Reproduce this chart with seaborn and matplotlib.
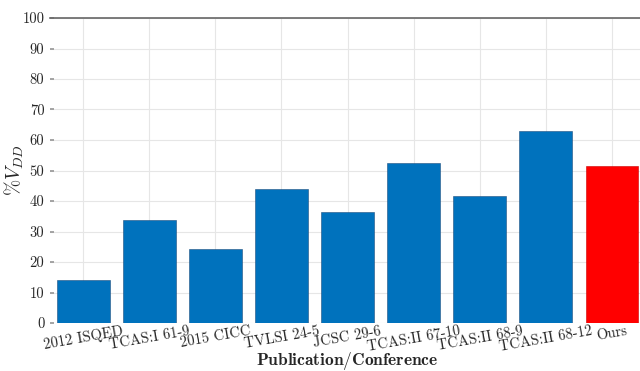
import matplotlib
matplotlib.use("Agg")
import matplotlib.pyplot as plt
import seaborn as sns
import pandas as pd

categories = ["2012 ISQED", "TCAS:I 61-9", "2015 CICC", "TVLSI 24-5", "JCSC 29-6",
              "TCAS:II 67-10", "TCAS:II 68-9", "TCAS:II 68-12", "Ours"]
values = [14.2, 33.8, 24.3, 44.0, 36.4, 52.5, 41.7, 63.0, 51.4]
bar_colors = ["#0072BD"] * 8 + ["#FF0000"]
yticks = list(range(0, 101, 10))

sns.set_theme(style="white")
plt.rcParams["font.family"] = ["cmr10", "DejaVu Serif"]
plt.rcParams["mathtext.fontset"] = "cm"
plt.rcParams["axes.unicode_minus"] = False

df = pd.DataFrame({"cat": categories, "val": values})

fig = plt.figure(figsize=(6.4, 3.71), dpi=100)
ax = fig.add_axes([50/640, 1 - 323/371, 595/640, (323 - 18)/371])

sns.barplot(data=df, x="cat", y="val", hue="cat", palette=bar_colors, legend=False,
            width=0.8, saturation=1, ax=ax, edgecolor="#1f4f7f", linewidth=0.4, zorder=3)
ax.patches[-1].set_edgecolor("#cc0000")

ax.set_xlim(-0.5, 8.5)
ax.set_ylim(0, 100)
ax.set_yticks(yticks)
ax.set_yticklabels([str(t) for t in yticks], fontsize=10.5)
ax.set_xticks(range(len(categories)))
ax.set_xticklabels(categories, rotation=10, ha="center", fontsize=10.5)

ax.grid(True, color="#e6e6e6", linewidth=0.8, zorder=0)
ax.set_axisbelow(True)
for s in ["left", "right", "bottom"]:
    ax.spines[s].set_visible(False)
ax.spines["top"].set_color("#666666")
ax.spines["top"].set_linewidth(1.2)
ax.tick_params(axis="y", direction="in", length=3, color="#999999", left=True, right=True, pad=4)
ax.tick_params(axis="x", length=0, pad=1)

ax.set_ylabel(r"$\%V_{DD}$", fontsize=14)
ax.yaxis.set_label_coords(-0.040, 0.5)
ax.set_xlabel(r"$\mathbf{Publication/Conference}$", fontsize=12.5, va="baseline")
ax.xaxis.set_label_coords(0.5, -0.138)

fig.savefig("out.png", dpi=100)
